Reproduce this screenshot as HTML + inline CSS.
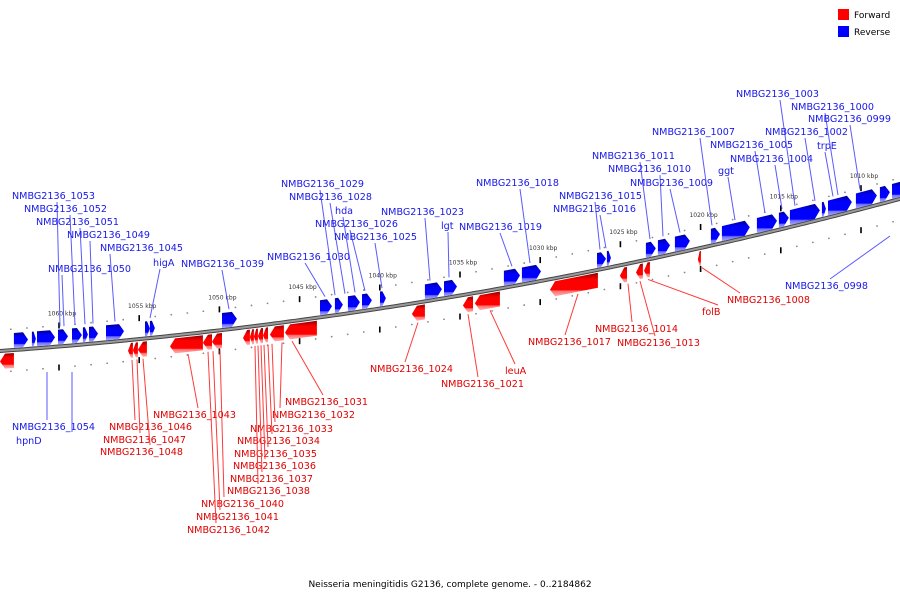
<!DOCTYPE html>
<html><head><meta charset="utf-8"><style>
body{margin:0;background:#fff}
svg{display:block}
text{font-family:"DejaVu Sans","Liberation Sans",sans-serif}
</style></head><body>
<svg id="c" width="900" height="600" viewBox="0 0 900 600" xmlns="http://www.w3.org/2000/svg">
<defs>
<linearGradient id="gb" x1="0" y1="0" x2="0" y2="1"><stop offset="0" stop-color="#000090"/><stop offset="0.3" stop-color="#0000ff"/><stop offset="0.72" stop-color="#0000ff"/><stop offset="0.78" stop-color="#7070ff"/><stop offset="1" stop-color="#a8a8ff"/></linearGradient>
<linearGradient id="gr" x1="0" y1="0" x2="0" y2="1"><stop offset="0" stop-color="#900000"/><stop offset="0.3" stop-color="#ff0000"/><stop offset="0.72" stop-color="#ff0000"/><stop offset="0.78" stop-color="#ff7070"/><stop offset="1" stop-color="#ffb0b0"/></linearGradient>
</defs>
<g>
<rect x="838" y="9" width="11" height="11" fill="#ff0000"/>
<text x="854" y="18" font-size="9" fill="#000">Forward</text>
<rect x="838" y="26" width="11" height="11" fill="#0000ff"/>
<text x="854" y="35" font-size="9" fill="#000">Reverse</text>
</g>
<text x="450" y="587" font-size="9" text-anchor="middle" fill="#000">Neisseria meningitidis G2136, complete genome. - 0..2184862</text>
</svg>
<script>
const blueStart=[1062.81,1061.69,1061.37,1060.06,1059.19,1058.51,1058.13,1057.07,1054.64,1054.33,1049.84,1043.73,1042.8,1041.99,1041.11,1039.99,1037.19,1036.0,1032.26,1031.14,1026.46,1025.84,1023.41,1022.66,1021.6,1019.36,1018.67,1016.49,1015.12,1014.43,1012.44,1012.06,1010.32,1008.82,1008.07];
const blueEnd=[1061.93,1061.44,1060.25,1059.44,1058.57,1058.2,1057.57,1055.95,1054.33,1054.02,1048.91,1042.98,1042.3,1041.24,1040.49,1039.62,1036.13,1035.19,1031.26,1029.95,1025.9,1025.59,1022.79,1021.91,1020.67,1018.79,1016.93,1015.24,1014.5,1012.56,1012.19,1010.57,1009.01,1008.2,1007.26];
const redStart=[1063.68,1055.7,1055.39,1055.08,1053.08,1051.03,1050.46,1048.53,1048.1,1047.85,1047.6,1047.28,1046.85,1045.91,1038.0,1034.82,1034.07,1029.39,1025.03,1024.03,1023.53,1020.17];
const redEnd=[1062.81,1055.39,1055.08,1054.52,1051.03,1050.46,1049.84,1048.1,1047.85,1047.6,1047.28,1046.97,1045.98,1043.92,1037.19,1034.19,1032.51,1026.4,1024.59,1023.6,1023.16,1019.98];
const tickKbp=[1060,1055,1050,1045,1040,1035,1030,1025,1020,1015,1010];
const blueLabels=[["NMBG2136_1053",12,199,57,60],["NMBG2136_1052",24,212,70,75],["NMBG2136_1051",36,225,80,85],["NMBG2136_1049",67,238,90,93],["NMBG2136_1045",100,251,110,115],["higA",153,266,160,150],["NMBG2136_1050",48,272,62,64],["NMBG2136_1039",181,267,222,229],["NMBG2136_1029",281,187,320,335],["NMBG2136_1028",289,200,330,345],["hda",335,214,343,355],["NMBG2136_1026",315,227,350,365],["NMBG2136_1025",334,240,375,382],["NMBG2136_1030",267,260,305,325],["NMBG2136_1023",381,215,425,430],["lgt",441,229,448,449],["NMBG2136_1019",459,230,500,512],["NMBG2136_1018",476,186,520,530],["NMBG2136_1015",559,199,595,600],["NMBG2136_1016",553,212,600,606],["NMBG2136_1011",592,159,640,650],["NMBG2136_1010",608,172,660,663],["NMBG2136_1009",630,186,670,680],["NMBG2136_1007",652,135,700,712],["ggt",718,174,728,735],["NMBG2136_1005",710,148,755,765],["NMBG2136_1004",730,162,775,782],["NMBG2136_1003",736,97,780,795],["NMBG2136_1002",765,135,805,815],["trpE",817,149,825,833],["NMBG2136_1000",791,110,825,838],["NMBG2136_0999",808,122,850,860]];
const redLabels=[["NMBG2136_1031",285,405,323,292],["NMBG2136_1032",272,418,280,282],["NMBG2136_1033",250,432,275,272],["NMBG2136_1034",237,444,272,268],["NMBG2136_1035",234,457,268,264],["NMBG2136_1036",233,469,265,261],["NMBG2136_1037",230,482,262,258],["NMBG2136_1038",227,494,258,255],["NMBG2136_1040",201,507,224,220],["NMBG2136_1041",196,520,220,213],["NMBG2136_1042",187,533,216,208],["NMBG2136_1043",153,418,198,188],["NMBG2136_1046",109,430,135,132],["NMBG2136_1047",103,443,140,137],["NMBG2136_1048",100,455,150,143],["NMBG2136_1024",370,372,405,418],["NMBG2136_1021",441,387,478,468],["leuA",505,374,515,490],["NMBG2136_1017",528,345,565,578],["NMBG2136_1014",595,332,632,628],["NMBG2136_1013",617,346,655,640],["folB",702,315,718,648],["NMBG2136_1008",727,303,740,702]];

const NS="http://www.w3.org/2000/svg";
const svg=document.getElementById('c');
function X(k){return 59+(1060-k)*16.04;}
function LY(x){return 351-0.07*x-1.1e-4*x*x;}
function mk(t,a,p){const e=document.createElementNS(NS,t);for(const k in a)e.setAttribute(k,a[k]);(p||svg).appendChild(e);return e;}
const ax=[];for(let x=-5;x<=905;x+=5)ax.push(x+","+LY(x).toFixed(1));
let e=mk('polyline',{points:ax.join(' '),fill:'none',stroke:'#444','stroke-width':4});


e=mk('polyline',{points:ax.join(' '),fill:'none',stroke:'#9a9a9a','stroke-width':2});


for(let k=1006;k<=1064;k++){const x=X(k);if(x<0||x>900)continue;
 const major=k%5===0;
 [-21,21].forEach(off=>{const y=LY(x)+off;
  if(major){e=mk('rect',{x:x-0.8,y:y-3,width:1.6,height:6,fill:'#000'});
   
   }
  else{e=mk('circle',{cx:x,cy:y,r:0.9,fill:'#888'});
   
   }
 });}
tickKbp.forEach(k=>{const x=X(k);
 e=mk('text',{x:x+3,y:LY(x)-31,'font-size':6,'text-anchor':'middle',fill:'#333'});
 e.textContent=k+' kbp';
 
 });
function gene(k1,k2,blue){const x1=X(k1),x2=X(k2);const len=x2-x1,h=Math.min(5,len*0.6);
 const top=blue?-17:3,bot=blue?-2:18,mid=(top+bot)/2;const p=[];
 if(blue){p.push([x1,LY(x1)+bot],[x2-h,LY(x2-h)+bot],[x2,LY(x2)+mid],[x2-h,LY(x2-h)+top],[x1,LY(x1)+top]);}
 else{p.push([x1,LY(x1)+mid],[x1+h,LY(x1+h)+bot],[x2,LY(x2)+bot],[x2,LY(x2)+top],[x1+h,LY(x1+h)+top]);}
 return mk('polygon',{points:p.map(q=>q[0].toFixed(1)+','+q[1].toFixed(1)).join(' '),fill:blue?'url(#gb)':'url(#gr)'});}
blueStart.forEach((s,i)=>{const g=gene(s,blueEnd[i],true);
 
 });
redStart.forEach((s,i)=>{const g=gene(s,redEnd[i],false);
 
 });
blueLabels.forEach(l=>{e=mk('line',{x1:l[3],y1:l[2]+3,x2:l[4],y2:LY(l[4])-20,stroke:'#5a5aff','stroke-width':1});
 
 
 e=mk('text',{x:l[1],y:l[2],'font-size':9.6,fill:'#1818e8'});e.textContent=l[0];
 
 });
redLabels.forEach(l=>{e=mk('line',{x1:l[3],y1:l[2]-10,x2:l[4],y2:LY(l[4])+20,stroke:'#ff3a3a','stroke-width':1});
 
 
 e=mk('text',{x:l[1],y:l[2],'font-size':9.6,fill:'#e00000'});e.textContent=l[0];
 
 });
[["NMBG2136_0998",785,289,830,279,890,236],["NMBG2136_1054",12,430,47,420,47,372],["hpnD",16,444,72,432,72,372]].forEach(l=>{
 e=mk('line',{x1:l[3],y1:l[4],x2:l[5],y2:l[6],stroke:'#5a5aff','stroke-width':1});
 
 
 e=mk('text',{x:l[1],y:l[2],'font-size':9.6,fill:'#1818e8'});e.textContent=l[0];
 
 });
</script>
</body></html>
